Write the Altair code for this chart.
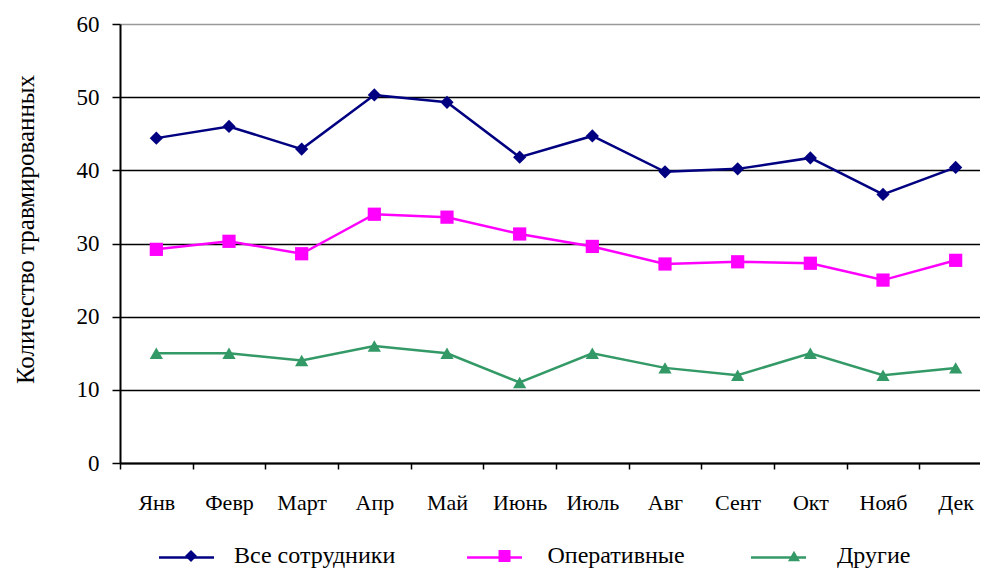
import altair as alt
import pandas as pd

months = ["Янв", "Февр", "Март", "Апр", "Май", "Июнь", "Июль", "Авг", "Сент", "Окт", "Нояб", "Дек"]
series_names = ["Все сотрудники", "Оперативные", "Другие"]
all_staff = [44.4, 46.0, 42.9, 50.3, 49.3, 41.8, 44.7, 39.8, 40.2, 41.7, 36.7, 40.4]
operative = [29.2, 30.3, 28.6, 34.0, 33.6, 31.3, 29.6, 27.2, 27.5, 27.3, 25.0, 27.7]
other = [15, 15, 14, 16, 15, 11, 15, 13, 12, 15, 12, 13]
y_ticks = [0, 10, 20, 30, 40, 50, 60]

colors = ["#000080", "#FF00FF", "#339966"]
shapes = ["diamond", "square", "triangle-up"]

rows = []
for name, vals in zip(series_names, [all_staff, operative, other]):
    for m, v in zip(months, vals):
        rows.append({"month": m, "series": name, "line_series": name, "value": v})
df = pd.DataFrame(rows)

FONT = "Liberation Serif"

x_enc = alt.X(
    "month:N",
    sort=months,
    scale=alt.Scale(type="band", paddingInner=0, paddingOuter=0),
    axis=alt.Axis(
        title=None,
        labelAngle=0,
        labelFont=FONT,
        labelFontSize=22,
        labelColor="black",
        labelPadding=40,
        labelBaseline="alphabetic",
        tickBand="extent",
        tickSize=6,
        tickColor="black",
        tickWidth=1.5,
        domainColor="black",
        domainWidth=2,
        grid=False,
    ),
)
y_enc = alt.Y(
    "value:Q",
    scale=alt.Scale(domain=[0, 60], nice=False, zero=True),
    axis=alt.Axis(
        values=y_ticks,
        title="Количество травмированных",
        titleFont=FONT,
        titleFontSize=25,
        titleFontWeight="normal",
        titleColor="black",
        titleX=-87,
        titleY=205,
        titleAlign="center",
        titleBaseline="alphabetic",
        titleAngle=270,
        labelFont=FONT,
        labelFontSize=23,
        labelColor="black",
        labelPadding=13,
        tickSize=8,
        tickColor="black",
        tickWidth=1.5,
        domainColor="black",
        domainWidth=2,
        grid=True,
        gridColor={"condition": {"test": "datum.value == 60", "value": "#999999"}, "value": "black"},
        gridWidth=1.5,
    ),
)

# legend geometry (relative to plot origin at page x=120, y=24)
LEG_CX = 65      # first marker centre x
LEG_CY = 532     # marker centre y
LINE_LEN = 55
MARK_W = 12

line_legend = alt.Legend(
    title=None,
    orient="none",
    legendX=LEG_CX - LINE_LEN / 2,
    legendY=LEG_CY - LINE_LEN / 2,
    direction="horizontal",
    symbolType="stroke",
    symbolSize=LINE_LEN * LINE_LEN,
    symbolStrokeWidth=2.5,
    labelOffset=17.5,
    columnPadding=67,
    labelFont=FONT,
    labelFontSize=24,
    labelLimit=500,
    labelOpacity=0,
    padding=0,
)

marker_legend = alt.Legend(
    title=None,
    orient="none",
    legendX=LEG_CX - MARK_W / 2,
    legendY=LEG_CY - 12,
    direction="horizontal",
    symbolSize=MARK_W * MARK_W,
    labelOffset=31,
    columnPadding=96.5,
    labelFont=FONT,
    labelFontSize=24,
    labelLimit=500,
    labelColor="black",
    padding=0,
)

base = alt.Chart(df)

lines = base.mark_line(strokeWidth=2.5).encode(
    x=x_enc,
    y=y_enc,
    stroke=alt.Stroke("line_series:N", scale=alt.Scale(domain=series_names, range=colors), legend=line_legend),
    detail="line_series:N",
)

points = base.mark_point(filled=True, size=175, opacity=1).encode(
    x=x_enc,
    y=y_enc,
    color=alt.Color("series:N", scale=alt.Scale(domain=series_names, range=colors), legend=marker_legend),
    shape=alt.Shape("series:N", scale=alt.Scale(domain=series_names, range=shapes), legend=marker_legend),
)

chart = (
    alt.layer(lines, points)
    .resolve_legend(stroke="independent", color="independent", shape="independent")
    .properties(
        width=872,
        height=439,
        autosize=alt.AutoSizeParams(type="none"),
        padding={"left": 112, "top": 16, "right": -12, "bottom": 105},
        background="white",
    )
    .configure_view(stroke=None)
)

chart.save("out.html", embed_options={"renderer": "svg", "actions": False})
